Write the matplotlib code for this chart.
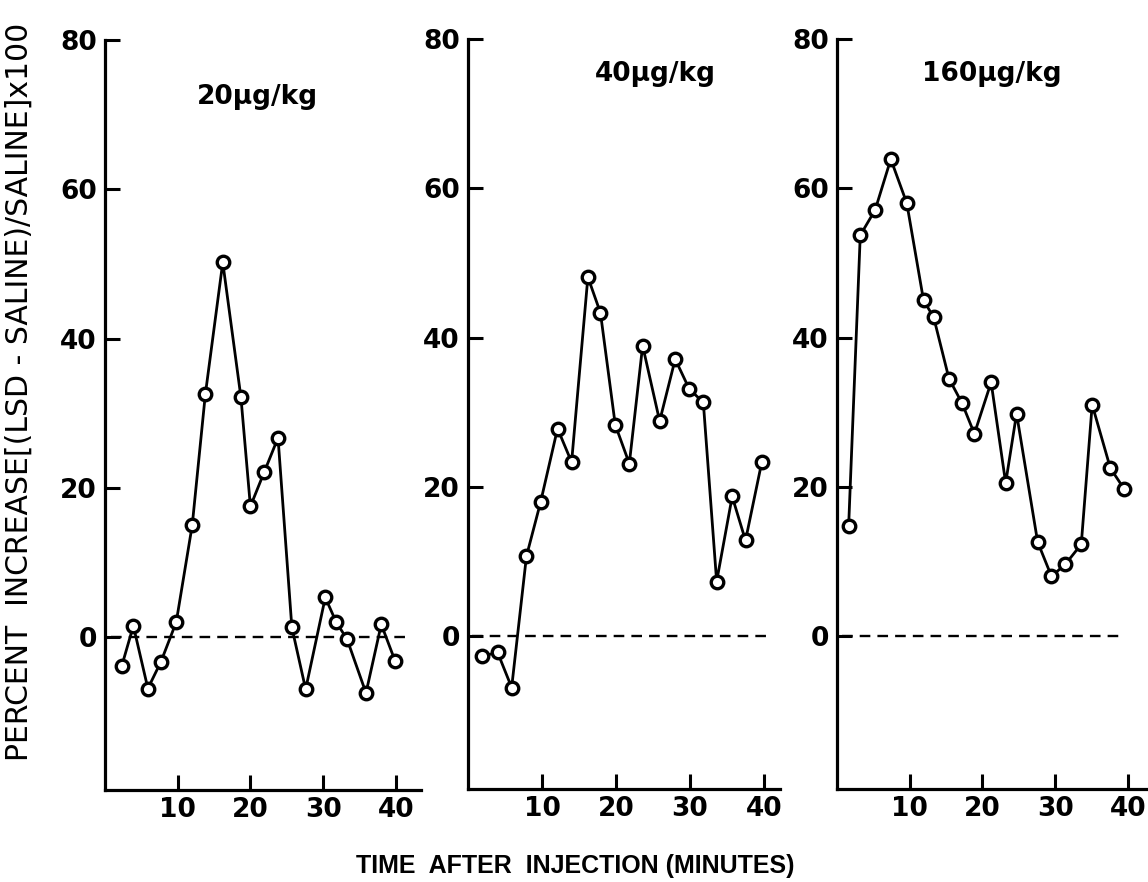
import matplotlib
matplotlib.use("Agg")
import matplotlib.pyplot as plt

# ---- data ----
x_20 = [2.3, 3.9, 5.9, 7.7, 9.8, 12.0, 13.8, 16.2, 18.7, 20.0, 21.9, 23.8, 25.7, 27.6, 30.3, 31.8, 33.3, 35.9, 38.0, 39.9]
y_20 = [-3.9, 1.5, -6.9, -3.3, 2.0, 15.0, 32.5, 50.2, 32.1, 17.5, 22.1, 26.7, 1.3, -7.0, 5.3, 2.0, -0.3, -7.5, 1.7, -3.2]

x_40 = [1.9, 4.0, 5.9, 7.9, 9.8, 12.1, 14.0, 16.2, 17.9, 19.9, 21.8, 23.6, 25.9, 28.0, 29.9, 31.8, 33.6, 35.7, 37.5, 39.7]
y_40 = [-2.7, -2.2, -6.9, 10.7, 17.9, 27.8, 23.3, 48.1, 43.3, 28.3, 23.1, 38.9, 28.8, 37.1, 33.1, 31.3, 7.3, 18.7, 12.8, 23.3]

x_160 = [1.6, 3.2, 5.25, 7.4, 9.6, 11.9, 13.3, 15.4, 17.2, 18.9, 21.2, 23.2, 24.7, 27.6, 29.5, 31.4, 33.6, 35.1, 37.6, 39.5]
y_160 = [14.7, 53.7, 57.1, 63.9, 58.0, 45.0, 42.7, 34.5, 31.2, 27.1, 34.0, 20.5, 29.8, 12.6, 8.0, 9.6, 12.3, 31.0, 22.5, 19.7]

titles = ["20\u03bcg/kg", "40\u03bcg/kg", "160\u03bcg/kg"]
y_ticks = [0, 20, 40, 60, 80]
x_ticks = [10, 20, 30, 40]

series = [(x_20, y_20), (x_40, y_40), (x_160, y_160)]

W, H = 1148, 882
fig = plt.figure(figsize=(W / 100, H / 100), dpi=100)

# axes rectangles in pixels: left, right, top, bottom
rects = [(105, 421, 40, 790), (468, 780, 39, 789), (837, 1148, 39, 789)]
scales = [7.27, 7.4, 7.27]
title_pos = [(21.0, 72.4), (25.3, 75.3), (21.3, 75.3)]
dash_span = [(0.8, 41.3), (0.6, 40.8), (0.7, 39.3)]

for i, ((xs, ys), (l, r, t, b)) in enumerate(zip(series, rects)):
    ax = fig.add_axes([l / W, 1 - b / H, (r - l) / W, (b - t) / H])
    ax.set_ylim(-20.5, 80)
    xmax = (r - l) / scales[i]
    ax.set_xlim(0, xmax)
    ax.axhline(0, xmin=dash_span[i][0] / xmax, xmax=dash_span[i][1] / xmax,
               color="black", lw=1.7, ls=(0, (4.5, 3)))
    ax.plot(xs, ys, color="black", lw=2.0, marker="o", ms=9, mfc="white",
            mec="black", mew=2.4)
    ax.spines["top"].set_visible(False)
    ax.spines["right"].set_visible(False)
    ax.spines["left"].set_linewidth(2.3)
    ax.spines["bottom"].set_linewidth(2.3)
    ax.set_yticks(y_ticks)
    ax.set_xticks(x_ticks)
    ax.set_yticklabels([str(v) for v in y_ticks], fontsize=19, fontweight="bold")
    ax.set_xticklabels([str(v) for v in x_ticks], fontsize=19, fontweight="bold")
    ax.tick_params(axis="both", direction="in", length=11, width=2.2)
    ax.tick_params(axis="x", pad=5)
    ax.tick_params(axis="y", pad=6)
    ax.text(title_pos[i][0], title_pos[i][1], titles[i], fontsize=19,
            fontweight="bold", ha="center", va="center")
    ax.patch.set_visible(False)

fig.text(0.0165, 0.556, "PERCENT  INCREASE[(LSD - SALINE)/SALINE]x100", rotation=90,
         fontsize=21.5, ha="center", va="center")
fig.text(0.501, 0.018, "TIME  AFTER  INJECTION (MINUTES)", fontsize=18,
         family="Liberation Sans", ha="center", va="center", fontweight="bold")

fig.savefig("out.png", dpi=100)
